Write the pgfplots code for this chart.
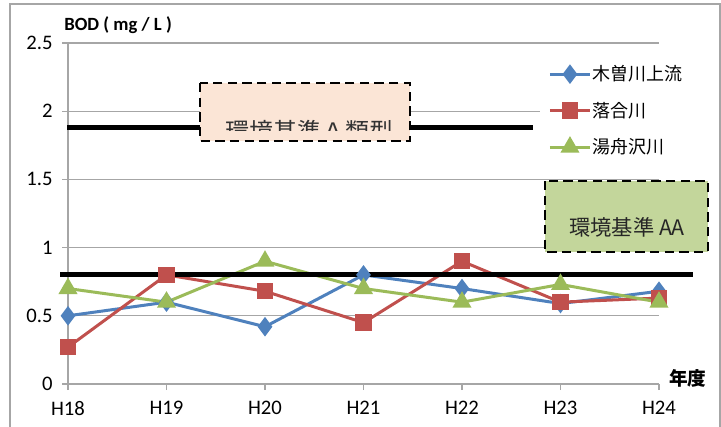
\documentclass[border=0pt]{standalone}
\usepackage{pgfplots}
\pgfplotsset{compat=1.18}
\usepackage{fontspec}
\setmainfont{Carlito}
\newfontfamily\cjk{Noto Sans CJK JP}
\definecolor{sblue}{HTML}{4F81BD}
\definecolor{sred}{HTML}{C0504D}
\definecolor{sgreen}{HTML}{9BBB59}
\definecolor{gridc}{HTML}{A6A6A6}
\definecolor{peach}{HTML}{FBE5D6}
\definecolor{boxgreen}{HTML}{C3D69B}
\begin{document}
\begin{tikzpicture}
\path[use as bounding box] (0,0) rectangle (540.75pt,-320.25pt);
\draw[gridc, line width=0.8pt] (7.5pt,-3pt) rectangle (540pt,-340pt);
\begin{axis}[
  at={(51pt,-288pt)}, anchor=south west,
  scale only axis, width=443.25pt, height=255.75pt,
  xmin=0, xmax=6, ymin=0, ymax=2.5,
  clip=false,
  axis line style={gridc, line width=0.8pt},
  axis x line*=bottom, axis y line*=left,
  xtick={0,...,6},
  xticklabels={H18,H19,H20,H21,H22,H23,H24},
  ytick={0,0.5,1,1.5,2,2.5},
  yticklabels={0,0.5,1,1.5,2,2.5},
  ymajorgrids, major grid style={gridc, line width=0.8pt},
  tick align=outside, major tick length=4.5pt,
  tick style={gridc, line width=0.8pt},
  ticklabel style={font=\fontsize{15.5}{17}\selectfont},
  yticklabel style={xshift=-3.5pt},
  xticklabel style={yshift=-5pt},
  /pgf/number format/assume math mode=true,
  legend cell align=left,
  legend style={at={(0.799,0.962)}, anchor=north west, draw=none, fill=white,
    font=\cjk\fontsize{13.5}{15}\selectfont, row sep=12.5pt,
    inner xsep=6pt, inner ysep=6pt,
    nodes={inner sep=1pt}},
  legend image code/.code={%
    \draw[mark repeat=2,mark phase=2] plot coordinates {(0pt,0pt) (15pt,0pt) (30pt,0pt)};},
  every axis plot/.append style={line width=2.25pt},
]
\addplot[sblue, mark=diamond*, mark size=5.5pt, mark options={solid}] coordinates {
 (0,0.50) (1,0.60) (2,0.42) (3,0.80) (4,0.70) (5,0.59) (6,0.68)};
\addlegendentry{木曽川上流}
\addplot[sred, mark=square*, mark size=5pt, mark options={solid}] coordinates {
 (0,0.27) (1,0.80) (2,0.68) (3,0.45) (4,0.90) (5,0.60) (6,0.63)};
\addlegendentry{落合川}
\addplot[sgreen, mark=triangle*, mark size=6pt, mark options={solid}] coordinates {
 (0,0.70) (1,0.60) (2,0.90) (3,0.70) (4,0.60) (5,0.73) (6,0.60)};
\addlegendentry{湯舟沢川}
\addplot[black, line width=3.75pt, forget plot] coordinates {(-0.08,0.8) (6.345,0.8)};
\addplot[black, line width=3.75pt, forget plot] coordinates {(-0.01,1.877) (4.72,1.877)};
\draw[black, dashed, line width=1.9pt, dash pattern=on 7pt off 4pt, fill=peach]
  (axis cs:1.34,2.207) rectangle (axis cs:3.47,1.781);
\begin{scope}
\clip (axis cs:1.34,2.207) rectangle (axis cs:3.47,1.855);
\node[font=\cjk\fontsize{18}{20}\selectfont, text=black!80] at (axis cs:2.45,1.85) {環境基準Ａ類型};
\end{scope}
\draw[black, dashed, line width=1.9pt, dash pattern=on 7pt off 4pt, fill=boxgreen]
  (axis cs:4.843,1.488) rectangle (axis cs:6.497,0.968);
\node[font=\cjk\fontsize{16}{18}\selectfont, text=black!85] at (axis cs:5.675,1.15) {環境基準 AA};
\node[anchor=west, font=\bfseries\fontsize{14}{16}\selectfont, inner sep=0pt] at (axis cs:-0.04,2.632) {BOD ( mg / L )};
\node[font=\cjk\bfseries\fontsize{14}{16}\selectfont, inner sep=0pt] at (axis cs:6.294,0.044) {年度};
\end{axis}
\end{tikzpicture}
\end{document}
